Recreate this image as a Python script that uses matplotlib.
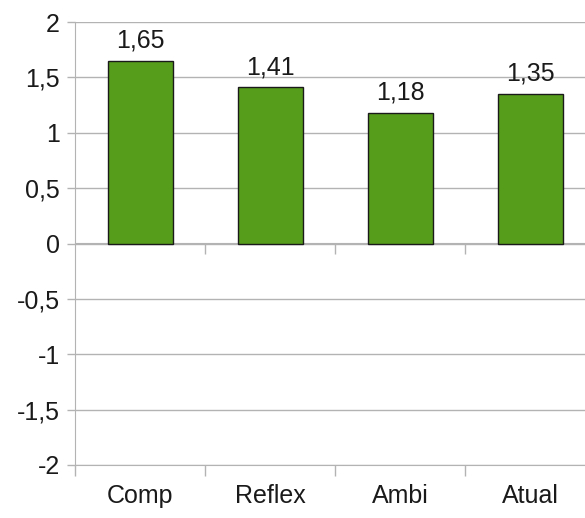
import matplotlib
matplotlib.use("Agg")
import matplotlib.pyplot as plt

categories = ["Comp", "Reflex", "Ambi", "Atual"]
values = [1.65, 1.41, 1.18, 1.35]
y_ticks = [-2, -1.5, -1, -0.5, 0, 0.5, 1, 1.5, 2]

plt.rcParams['font.family'] = ['Liberation Sans', 'DejaVu Sans']
fs = 18

fig = plt.figure(figsize=(5.85, 5.18), dpi=100)
ax = fig.add_axes([75 / 585, (518 - 465) / 518, (595 - 75) / 585, (465 - 22) / 518])

grey = '#b3b3b3'
xs = list(range(len(categories)))
bars = ax.bar(xs, values, width=0.5, color='#579d1c', edgecolor='#1a1a1a', linewidth=1, zorder=3)

for x, v in zip(xs, values):
    ax.annotate(f"{v:.2f}".replace('.', ','), (x, v), xytext=(0, 6), textcoords='offset points',
                ha='center', va='bottom', fontsize=fs, color='#1a1a1a')

ax.set_xlim(-0.5, len(categories) - 0.5)
ax.set_ylim(-2, 2)
ax.set_yticks(y_ticks)
ax.set_yticklabels([("%g" % t).replace('.', ',') for t in y_ticks])
ax.yaxis.grid(True, color=grey, linewidth=1, zorder=0)

bounds = [i - 0.5 for i in range(len(categories))] + [len(categories) - 0.5]
ax.set_xticks(bounds)
ax.set_xticklabels([])
ax.set_xticks(xs, minor=True)
ax.set_xticklabels(categories, minor=True)
ax.tick_params(axis='x', which='major', length=8, color=grey, width=1)
ax.tick_params(axis='x', which='minor', length=0, pad=14, labelsize=fs, labelcolor='#1a1a1a')
ax.tick_params(axis='y', length=6, color=grey, width=1, pad=5, labelsize=fs, labelcolor='#1a1a1a')

for s in ['top', 'right']:
    ax.spines[s].set_visible(False)
ax.spines['left'].set_color(grey)
ax.spines['bottom'].set_color(grey)

sec = ax.secondary_xaxis(0.5)
sec.set_xticks(bounds[1:-1])
sec.set_xticklabels([])
sec.tick_params(length=8, color=grey, width=1, direction='in')
for s in sec.spines.values():
    s.set_color(grey)

fig.savefig("out.png", dpi=100)
